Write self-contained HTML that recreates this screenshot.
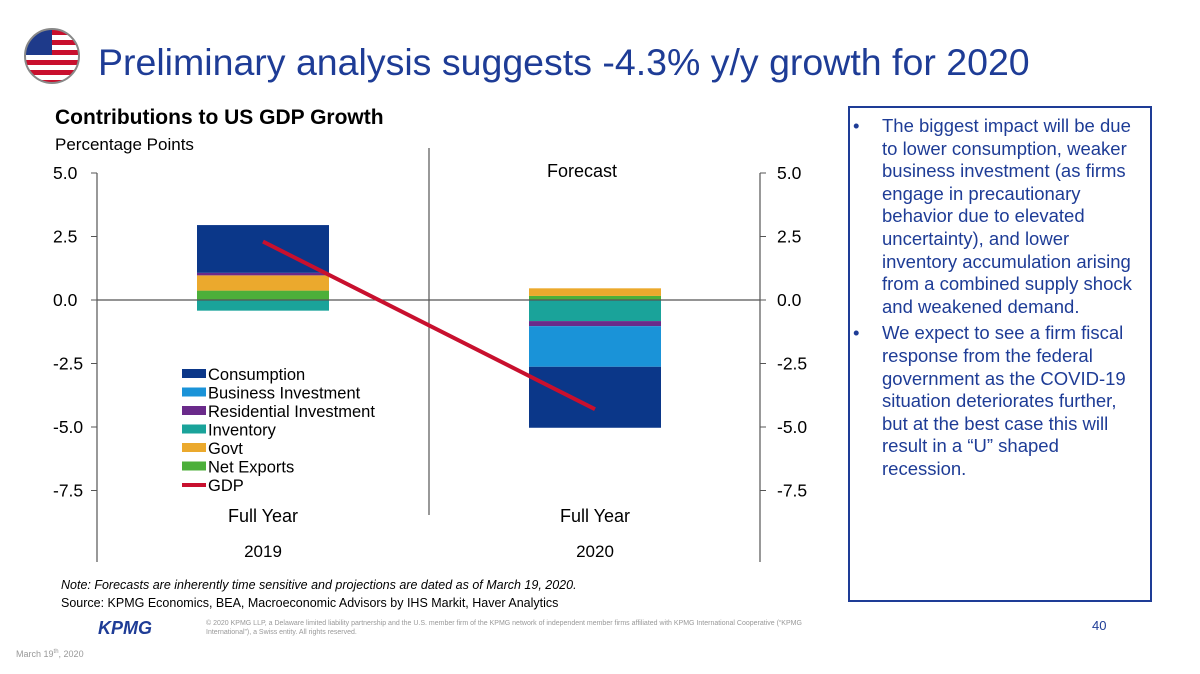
<!DOCTYPE html>
<html><head><meta charset="utf-8"><style>
body{margin:0;width:1200px;height:674px;background:#fff;font-family:"Liberation Sans",Arial,sans-serif;position:relative;overflow:hidden}
.abs{position:absolute}
</style></head><body>
<svg class="abs" style="left:0;top:0" width="1200" height="674">
  <g>
    <clipPath id="fc"><circle cx="52" cy="56" r="27"/></clipPath>
    <g clip-path="url(#fc)">
      <rect x="24" y="28" width="56" height="56" fill="#fff"/>
      <rect x="24" y="30" width="56" height="5" fill="#c8102e"/><rect x="24" y="40" width="56" height="5" fill="#c8102e"/>
      <rect x="24" y="50" width="56" height="5" fill="#c8102e"/><rect x="24" y="60" width="56" height="5" fill="#c8102e"/>
      <rect x="24" y="70" width="56" height="5" fill="#c8102e"/><rect x="24" y="80" width="56" height="5" fill="#c8102e"/>
      <rect x="24" y="28" width="28" height="27" fill="#1e3a8a"/>
    </g>
    <circle cx="52" cy="56" r="27" fill="none" stroke="#888" stroke-width="2"/>
  </g>
  <text x="98" y="75" font-size="37.5" fill="#1e3c96">Preliminary analysis suggests -4.3% y/y growth for 2020</text>
  <g id="chart"></g>
  <rect x="849" y="107" width="302" height="494" fill="none" stroke="#1e3c96" stroke-width="2"/>
</svg>
<div class="abs" style="left:55px;top:106px;font-size:21px;font-weight:bold">Contributions to US GDP Growth</div>
<div class="abs" style="left:55px;top:135px;font-size:17px">Percentage Points</div>
<div class="abs" style="left:853px;top:115px;width:292px;font-size:18.5px;line-height:22.6px;color:#1e3c96">
  <div style="display:flex"><span style="width:29px;flex:none">•</span><span style="width:262px">The biggest impact will be due to lower consumption, weaker business investment (as firms engage in precautionary behavior due to elevated uncertainty), and lower inventory accumulation arising from a combined supply shock and weakened demand.</span></div>
  <div style="display:flex;margin-top:4px"><span style="width:29px;flex:none">•</span><span style="width:262px">We expect to see a firm fiscal response from the federal government as the COVID-19 situation deteriorates further, but at the best case this will result in a “U” shaped recession.</span></div>
</div>
<div class="abs" style="left:61px;top:578px;font-size:12.5px;font-style:italic">Note: Forecasts are inherently time sensitive and projections are dated as of March 19, 2020.</div>
<div class="abs" style="left:61px;top:596px;font-size:12.5px">Source: KPMG Economics, BEA, Macroeconomic Advisors by IHS Markit, Haver Analytics</div>
<div class="abs" style="left:98px;top:618px;font-size:18px;font-weight:bold;font-style:italic;color:#1e3c96">KPMG</div>
<div class="abs" style="left:206px;top:619px;font-size:7px;color:#999;width:600px;line-height:9px">© 2020 KPMG LLP, a Delaware limited liability partnership and the U.S. member firm of the KPMG network of independent member firms affiliated with KPMG International Cooperative (“KPMG International”), a Swiss entity. All rights reserved.</div>
<div class="abs" style="left:1092px;top:618px;font-size:13px;color:#1e3c96">40</div>
<div class="abs" style="left:16px;top:649px;font-size:9px;color:#999">March 19<sup style="font-size:6px">th</sup>, 2020</div>
<script>
const categories=["2019","2020"];
const seriesNames=["Consumption","Business Investment","Residential Investment","Inventory","Govt","Net Exports"];
const seriesColors=["#0b3789","#1a93d8","#6a2a8a","#1aa39a","#eba92d","#4caf3a"];
const consumption=[1.88,-2.4];
const businessInv=[0,-1.6];
const residentialInv=[0.1,-0.2];
const inventory=[-0.42,-0.83];
const govt=[0.6,0.3];
const netExports=[0.37,0.16];
const gdp=[2.3,-4.3];
const yTicks=[5.0,2.5,0.0,-2.5,-5.0,-7.5];
const NS="http://www.w3.org/2000/svg";
const g=document.getElementById('chart');
const y=v=>300-v*25.4;
const xc=i=>263+i*332;
function mk(t,a){const e=document.createElementNS(NS,t);for(const k in a)e.setAttribute(k,a[k]);g.appendChild(e);return e;}
const vals=[consumption,businessInv,residentialInv,inventory,govt,netExports];
categories.forEach((c,i)=>{
  let pos=0,neg=0;
  [5,4,2,1,0].forEach(s=>{const v=vals[s][i];if(v>0){const r=mk('rect',{x:xc(i)-66,y:y(pos+v),width:132,height:y(pos)-y(pos+v),fill:seriesColors[s]});

pos+=v;}});
  [3,2,1,0].forEach(s=>{const v=vals[s][i];if(v<0){const r=mk('rect',{x:xc(i)-66,y:y(neg),width:132,height:y(neg+v)-y(neg),fill:seriesColors[s]});

neg+=v;}});
});
let e=mk('line',{x1:97,y1:173,x2:97,y2:562,stroke:'#555','stroke-width':1.2});


e=mk('line',{x1:760,y1:173,x2:760,y2:562,stroke:'#555','stroke-width':1.2});


e=mk('line',{x1:429,y1:148,x2:429,y2:515,stroke:'#555','stroke-width':1.2});


e=mk('line',{x1:97,y1:y(0),x2:760,y2:y(0),stroke:'#555','stroke-width':1.2});


yTicks.forEach(t=>{
  mk('line',{x1:91,y1:y(t),x2:97,y2:y(t),stroke:'#555'});
  mk('line',{x1:760,y1:y(t),x2:766,y2:y(t),stroke:'#555'});
  let l=mk('text',{x:53,y:y(t)+6,'font-size':17.5});l.textContent=t.toFixed(1);
  
  
  l=mk('text',{x:777,y:y(t)+6,'font-size':17.5});l.textContent=t.toFixed(1);
  
  
});
categories.forEach((c,i)=>{
  let t=mk('text',{x:xc(i),y:522,'font-size':18,'text-anchor':'middle'});t.textContent='Full Year';
  
  
  t=mk('text',{x:xc(i),y:557,'font-size':17,'text-anchor':'middle'});t.textContent=c;
  
  
});
let f=mk('text',{x:582,y:177,'font-size':18,'text-anchor':'middle'});f.textContent='Forecast';


let pl=mk('polyline',{points:gdp.map((v,i)=>xc(i)+','+y(v)).join(' '),fill:'none',stroke:'#c8102e','stroke-width':4});


const legNames=seriesNames.concat(['GDP']);
legNames.forEach((n,i)=>{
  const ly=374+i*18.5;
  let s;
  if(i<6) s=mk('rect',{x:182,y:ly-5,width:24,height:9,fill:seriesColors[i]});
  else s=mk('line',{x1:182,y1:ly,x2:206,y2:ly,stroke:'#c8102e','stroke-width':4});
  
  
  const t=mk('text',{x:208,y:ly+6,'font-size':16.5});t.textContent=n;
  
  
});
</script>
</body></html>
